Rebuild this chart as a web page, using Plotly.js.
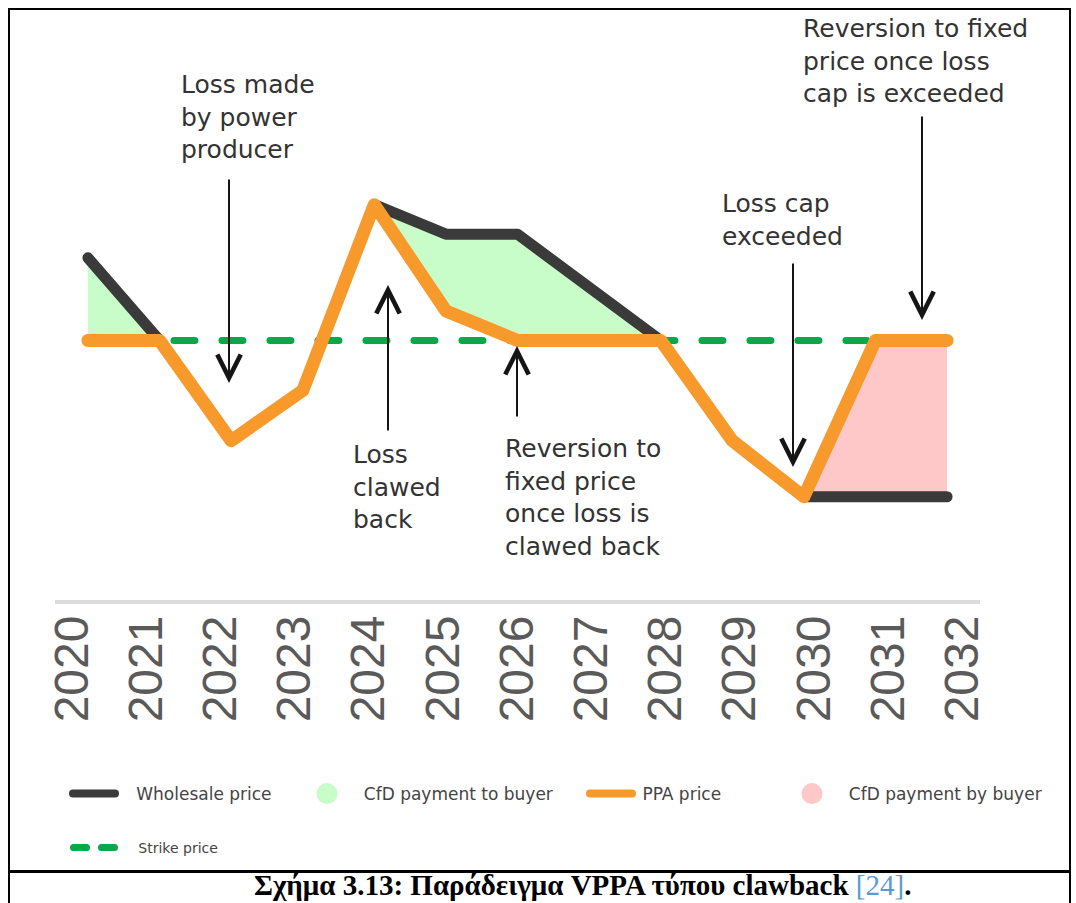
<!DOCTYPE html>
<html>
<head>
<meta charset="utf-8">
<script src="https://cdn.plot.ly/plotly-3.0.1.min.js"></script>
<style>
html, body { margin: 0; padding: 0; background: #ffffff; }
#chart path.js-line { stroke-linecap: round; stroke-linejoin: round; }
#chart .tracestrike path.js-line { stroke-dashoffset: 10px; }
#chart g.legend path.js-line, #chart g.legend3 path.js-line { stroke-width: 8px !important; }
#chart g.legend5 path.js-line { stroke-dasharray: 13px, 15px !important; }
</style>
</head>
<body>
<div id="chart" style="width:1076px;height:903px;"></div>
<script>
// ---- data ----
const years = [2020, 2021, 2022, 2023, 2024, 2025, 2026, 2027, 2028, 2029, 2030, 2031, 2032];
const tickLabels = ['2020', '2021', '2022', '2023', '2024', '2025', '2026', '2027', '2028', '2029', '2030', '2031', '2032'];
const wholesalePrice = [58, 44, 27, 35.5, 67, 62, 62, 53, 44, 27, 17.5, 17.5, 17.5];
const ppaPrice       = [44, 44, 27, 35.5, 67, 49, 44, 44, 44, 27, 17.5, 44, 44];
const strikePrice    = [44, 44, 44, 44, 44, 44, 44, 44, 44, 44, 44, 44, 44];
const paymentToBuyerYears = [2020, 2028];   // span of green CfD area
const paymentByBuyerYears = [2030, 2032];   // span of pink CfD area
const seriesNames = ['Wholesale price', 'CfD payment to buyer', 'PPA price', 'CfD payment by buyer', 'Strike price'];

const annotationTexts = [
  'Loss made<br>by power<br>producer',
  'Loss<br>clawed<br>back',
  'Reversion to<br>fixed price<br>once loss is<br>clawed back',
  'Loss cap<br>exceeded',
  'Reversion to fixed<br>price once loss<br>cap is exceeded'
];
const captionMain = 'Σχήμα 3.13: Παράδειγμα VPPA τύπου clawback ';
const captionRef = '[24]';

// ---- colours ----
const C_DARK = '#3a3a3a', C_ORANGE = '#f7992b', C_GREEN = '#08a84a';
const C_GREEN_FILL = '#c8fcc8', C_PINK_FILL = '#ffc8c8';

// ---- helpers for layout placement (pixel -> paper) ----
const W = 1076, H = 903, PL = 55, PR = 96, PT = 10, PB = 303;
const PW = W - PL - PR, PH = H - PT - PB;
const px2x = px => (px - PL) / PW;
const px2y = py => (PT + PH - py) / PH;
const pad = n => '\u00a0'.repeat(n);

function slice(arr, span) {
  const i0 = years.indexOf(span[0]), i1 = years.indexOf(span[1]);
  return arr.slice(i0, i1 + 1);
}

const traces = [
  // green area: between PPA (lower) and wholesale (upper)
  { x: slice(years, paymentToBuyerYears), y: slice(ppaPrice, paymentToBuyerYears), mode: 'lines',
    line: { width: 0 }, showlegend: false, hoverinfo: 'skip' },
  { x: slice(years, paymentToBuyerYears), y: slice(wholesalePrice, paymentToBuyerYears), mode: 'lines',
    line: { width: 0 }, fill: 'tonexty', fillcolor: C_GREEN_FILL, showlegend: false, hoverinfo: 'skip',
    legendgroup: 'to' },
  // pink area: between wholesale (lower) and PPA (upper)
  { x: slice(years, paymentByBuyerYears), y: slice(wholesalePrice, paymentByBuyerYears), mode: 'lines',
    line: { width: 0 }, showlegend: false, hoverinfo: 'skip' },
  { x: slice(years, paymentByBuyerYears), y: slice(ppaPrice, paymentByBuyerYears), mode: 'lines',
    line: { width: 0 }, fill: 'tonexty', fillcolor: C_PINK_FILL, showlegend: false, hoverinfo: 'skip',
    legendgroup: 'by' },
  // strike price
  { x: years, y: strikePrice, mode: 'lines', name: pad(4) + seriesNames[4], legend: 'legend5', uid: 'strike',
    line: { color: C_GREEN, width: 7, dash: '21px,27px' } },
  // wholesale price
  { x: years, y: wholesalePrice, mode: 'lines', name: pad(3) + seriesNames[0], legend: 'legend',
    line: { color: C_DARK, width: 11 } },
  // PPA price
  { x: years, y: ppaPrice, mode: 'lines', name: pad(1) + seriesNames[2], legend: 'legend3',
    line: { color: C_ORANGE, width: 13 } },
  // legend entries for the areas
  { x: [null], y: [null], mode: 'markers', name: pad(2) + seriesNames[1], legend: 'legend2', legendgroup: 'to',
    marker: { symbol: 'circle', size: 30, color: C_GREEN_FILL, line: { width: 5, color: C_GREEN_FILL } } },
  { x: [null], y: [null], mode: 'markers', name: pad(2) + seriesNames[3], legend: 'legend4', legendgroup: 'by',
    marker: { symbol: 'circle', size: 30, color: C_PINK_FILL, line: { width: 5, color: C_PINK_FILL } } },
  // carrier for the year tick labels
  { x: years, y: years.map(() => null), xaxis: 'x2', yaxis: 'y', mode: 'lines', showlegend: false, hoverinfo: 'skip' }
];

const legendBase = {
  bgcolor: 'rgba(0,0,0,0)', borderwidth: 0, orientation: 'h', itemwidth: 42,
  xanchor: 'left', yanchor: 'top', itemclick: false, itemdoubleclick: false,
  font: { family: 'DejaVu Sans', size: 17, color: '#444444' }
};
function legendAt(px, py, extra) { return Object.assign({}, legendBase, { x: px2x(px), y: px2y(py) }, extra || {}); }

const annFont = { family: 'DejaVu Sans', size: 25, color: '#333333' };
function textAnn(i, px, py) {
  return { text: annotationTexts[i], xref: 'paper', yref: 'paper', x: px2x(px), y: px2y(py),
    xanchor: 'left', yanchor: 'top', align: 'left', showarrow: false, font: annFont };
}
function arrowAnn(px, tipY, tailY) {
  return { text: '', xref: 'paper', yref: 'paper', x: px2x(px), y: px2y(tipY),
    ax: 0, ay: tailY - tipY, axref: 'pixel', ayref: 'pixel', showarrow: true,
    arrowhead: 5, arrowsize: 2.3, arrowwidth: 2, arrowcolor: '#151515', standoff: 0 };
}

const annotations = [
  textAnn(0, 179, 68), arrowAnn(229, 383, 178),
  textAnn(1, 351, 438), arrowAnn(388, 285, 432),
  textAnn(2, 503, 432), arrowAnn(517, 346, 418),
  textAnn(3, 720, 187), arrowAnn(793, 467, 262),
  textAnn(4, 801, 12), arrowAnn(922, 320, 115),
  { text: captionMain + '<span style="color:#5b9bd5;font-weight:normal">' + captionRef + '</span>.',
    xref: 'paper', yref: 'paper', x: px2x(582), y: px2y(885), xanchor: 'center', yanchor: 'middle',
    showarrow: false, font: { family: 'Liberation Serif, Times New Roman, serif', size: 29, color: '#000', weight: 'bold' } }
];

function lineShape(x0, y0, x1, y1, w) {
  return { type: 'line', xref: 'paper', yref: 'paper', x0: px2x(x0), y0: px2y(y0), x1: px2x(x1), y1: px2y(y1),
    line: { color: '#000', width: w }, layer: 'above' };
}
const shapes = [
  lineShape(8, 9, 1071, 9, 2),
  lineShape(9, 8, 9, 903, 2),
  lineShape(1070, 8, 1070, 903, 2),
  lineShape(8, 871.5, 1071, 871.5, 3)
];

const layout = {
  width: W, height: H,
  margin: { l: PL, r: PR, t: PT, b: PB, pad: 0 },
  paper_bgcolor: '#ffffff', plot_bgcolor: '#ffffff',
  showlegend: true,
  xaxis: { range: [2019.54, 2032.46], showline: true, linecolor: '#dcdcdc', linewidth: 4,
    showticklabels: false, ticks: '', showgrid: false, zeroline: false, automargin: false, fixedrange: true },
  xaxis2: { overlaying: 'x', anchor: 'y', side: 'bottom', range: [2019.771, 2032.237],
    tickmode: 'array', tickvals: years, ticktext: tickLabels, tickangle: -90, ticks: '',
    ticklabelstandoff: 5,
    tickfont: { family: 'Liberation Sans Narrow, Liberation Sans, Arial, sans-serif', size: 48, color: '#5a5a5a' },
    showline: false, showgrid: false, zeroline: false, automargin: false, fixedrange: true },
  yaxis: { range: [0, 100], visible: false, fixedrange: true },
  legend:  legendAt(68, 776),
  legend2: legendAt(301, 776),
  legend3: legendAt(585, 776),
  legend4: legendAt(786, 776),
  legend5: legendAt(68.5, 832, { font: { family: 'DejaVu Sans', size: 14, color: '#444444' } }),
  annotations: annotations,
  shapes: shapes
};

Plotly.newPlot('chart', traces, layout, { staticPlot: true, displayModeBar: false });
</script>
</body>
</html>
